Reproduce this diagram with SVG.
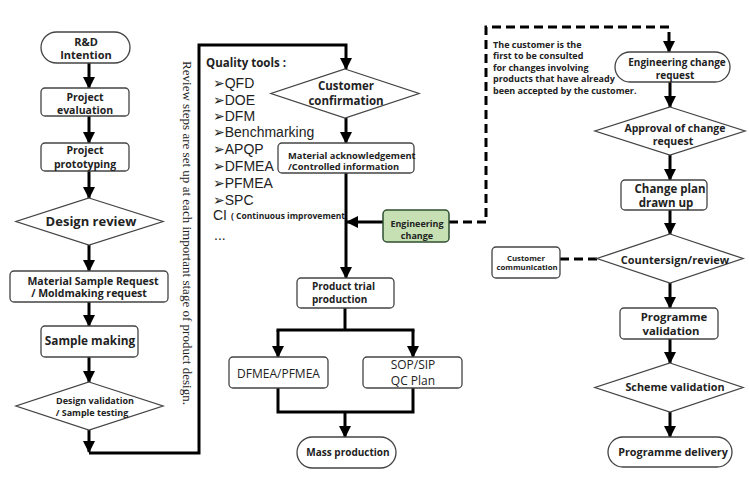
<svg xmlns="http://www.w3.org/2000/svg" width="749" height="480" viewBox="0 0 749 480">
<defs>
<marker id="ah" markerUnits="userSpaceOnUse" markerWidth="12" markerHeight="14" refX="11" refY="6" orient="auto">
<path d="M0,0 L12,6 L0,12 Z" fill="#000"/>
</marker>
<style>
.sh{fill:#fff;stroke:#444;stroke-width:1.3}
.ln{fill:none;stroke:#000;stroke-width:3}
.dl{fill:none;stroke:#000;stroke-width:3;stroke-dasharray:9,5}
.t{font-family:"Open Sans","DejaVu Sans",sans-serif;font-weight:bold;fill:#222;text-anchor:middle}
.r{font-family:"Open Sans","DejaVu Sans",sans-serif;fill:#222;text-anchor:middle}
.q{font-family:"Liberation Sans","DejaVu Sans",sans-serif;font-size:14px;fill:#222}
</style>
</defs>
<rect width="749" height="480" fill="#fff"/>

<g id="connectors">
<line class="ln" x1="89" y1="63" x2="89" y2="88" marker-end="url(#ah)"/>
<line class="ln" x1="89" y1="116" x2="89" y2="143" marker-end="url(#ah)"/>
<line class="ln" x1="89" y1="171" x2="89" y2="198" marker-end="url(#ah)"/>
<line class="ln" x1="89" y1="245" x2="89" y2="271" marker-end="url(#ah)"/>
<line class="ln" x1="89" y1="302" x2="89" y2="326" marker-end="url(#ah)"/>
<line class="ln" x1="89" y1="357" x2="89" y2="382" marker-end="url(#ah)"/>
<line class="ln" x1="89" y1="430" x2="89" y2="452" marker-end="url(#ah)"/>
<polyline class="ln" points="89,453 199,453 199,45 346,45 346,69" marker-end="url(#ah)"/>
<line class="ln" x1="346" y1="118" x2="346" y2="143" marker-end="url(#ah)"/>
<line class="ln" x1="346" y1="173" x2="346" y2="278" marker-end="url(#ah)"/>
<line class="ln" x1="383" y1="222" x2="347" y2="222" marker-end="url(#ah)"/>
<line class="ln" x1="345" y1="308" x2="345" y2="330"/>
<line class="ln" x1="276.5" y1="330" x2="414.5" y2="330"/>
<line class="ln" x1="278" y1="330" x2="278" y2="357" marker-end="url(#ah)"/>
<line class="ln" x1="413" y1="330" x2="413" y2="357" marker-end="url(#ah)"/>
<polyline class="ln" points="278,388 278,412 413,412 413,388"/>
<line class="ln" x1="345" y1="412" x2="345" y2="437" marker-end="url(#ah)"/>
<polyline class="dl" points="449,222 486,222 486,27 669,27 669,52" marker-end="url(#ah)"/>
<line class="ln" x1="670" y1="82" x2="670" y2="107" marker-end="url(#ah)"/>
<line class="ln" x1="670" y1="155" x2="670" y2="180" marker-end="url(#ah)"/>
<line class="ln" x1="670" y1="210" x2="670" y2="234" marker-end="url(#ah)"/>
<line class="ln" x1="670" y1="283" x2="670" y2="308" marker-end="url(#ah)"/>
<line class="ln" x1="670" y1="339" x2="670" y2="363" marker-end="url(#ah)"/>
<line class="ln" x1="670" y1="412" x2="670" y2="437" marker-end="url(#ah)"/>
<line class="dl" x1="560" y1="259" x2="597" y2="259"/>
</g>

<g id="rd-intention">
<rect class="sh" x="41" y="32" width="89" height="31" rx="15.5"/>
<text class="t" font-size="11" x="86" y="45.5">R&amp;D</text>
<text class="t" font-size="11" x="86" y="59">Intention</text>
</g>
<g id="project-evaluation">
<rect class="sh" x="41" y="88" width="88" height="28" rx="4"/>
<text class="t" font-size="10.5" x="85" y="101">Project</text>
<text class="t" font-size="10.5" x="85" y="114">evaluation</text>
</g>
<g id="project-prototyping">
<rect class="sh" x="41" y="143" width="88" height="28" rx="4"/>
<text class="t" font-size="10.5" x="85" y="154">Project</text>
<text class="t" font-size="10.5" x="85" y="168">prototyping</text>
</g>
<g id="design-review">
<polygon class="sh" points="89,198 163,221.5 89,245 16,221.5"/>
<text class="t" font-size="13" x="91" y="226">Design review</text>
</g>
<g id="material-sample">
<rect class="sh" x="10" y="271" width="158" height="31" rx="4"/>
<text class="t" font-size="10.5" x="93" y="284.5">Material Sample Request</text>
<text class="t" font-size="10.5" x="89" y="297">/ Moldmaking request</text>
</g>
<g id="sample-making">
<rect class="sh" x="41" y="326" width="97" height="31" rx="4"/>
<text class="t" font-size="11.8" x="90" y="345">Sample making</text>
</g>
<g id="design-validation">
<polygon class="sh" points="89,382 163,406 89,430 16,406"/>
<text class="t" font-size="9" x="95" y="403.5">Design validation</text>
<text class="t" font-size="9" x="92" y="416">/ Sample testing</text>
</g>

<g id="review-note">
<text transform="translate(183,61) rotate(90)" font-family="'Liberation Serif','DejaVu Serif',serif" font-size="12" fill="#222" textLength="344" lengthAdjust="spacingAndGlyphs">Review steps are set up at each important stage of product design.</text>
</g>

<g id="quality-tools">
<text class="t" font-size="11.5" x="206" y="67" style="text-anchor:start">Quality tools :</text>
<text class="q" x="213" y="88">➢QFD</text>
<text class="q" x="213" y="105">➢DOE</text>
<text class="q" x="213" y="121">➢DFM</text>
<text class="q" x="213" y="137">➢Benchmarking</text>
<text class="q" x="213" y="154">➢APQP</text>
<text class="q" x="213" y="171">➢DFMEA</text>
<text class="q" x="213" y="188">➢PFMEA</text>
<text class="q" x="213" y="205">➢SPC</text>
<text class="q" x="213" y="220">CI</text>
<text class="t" font-size="8.5" x="231" y="219" style="text-anchor:start">( Continuous improvement</text>
<text class="q" x="214" y="240" font-size="10" fill="#666">...</text>
</g>

<g id="customer-confirmation">
<polygon class="sh" points="345,69 419,93.5 345,118 271,93.5"/>
<text class="t" font-size="11.5" x="346" y="90">Customer</text>
<text class="t" font-size="11.5" x="346" y="104.5">confirmation</text>
</g>
<g id="material-ack">
<rect class="sh" x="278" y="143" width="136" height="30" rx="4"/>
<text class="t" font-size="9.3" x="288" y="158.5" style="text-anchor:start">Material acknowledgement</text>
<text class="t" font-size="9.3" x="288" y="170" style="text-anchor:start">/Controlled information</text>
</g>
<g id="engineering-change">
<rect x="383" y="210" width="66" height="32" rx="4" fill="#c6e0b4" stroke="#2f4f2f" stroke-width="1.5"/>
<text class="t" font-size="9" x="417" y="226.5">Engineering</text>
<text class="t" font-size="9" x="417" y="239">change</text>
</g>
<g id="product-trial">
<rect class="sh" x="297" y="278" width="97" height="30" rx="4"/>
<text class="t" font-size="10" x="312" y="289.5" style="text-anchor:start">Product trial</text>
<text class="t" font-size="10" x="312" y="302.5" style="text-anchor:start">production</text>
</g>
<g id="dfmea-pfmea">
<rect class="sh" x="229" y="357" width="99" height="31" rx="4"/>
<text class="r" font-size="12" x="278.5" y="378">DFMEA/PFMEA</text>
</g>
<g id="sop-sip">
<rect class="sh" x="363" y="357" width="99" height="31" rx="4"/>
<text class="r" font-size="12" x="413" y="368.5">SOP/SIP</text>
<text class="r" font-size="12" x="413" y="384.5">QC Plan</text>
</g>
<g id="mass-production">
<rect class="sh" x="297" y="437" width="99" height="31" rx="15.5"/>
<text class="t" font-size="10" x="348" y="455.5">Mass production</text>
</g>

<g id="customer-note">
<text class="t" font-size="9" fill="#333" x="493" y="47.5" style="text-anchor:start">The customer is the</text>
<text class="t" font-size="9" fill="#333" x="493" y="59" style="text-anchor:start">first to be consulted</text>
<text class="t" font-size="9" fill="#333" x="493" y="70.5" style="text-anchor:start">for changes involving</text>
<text class="t" font-size="9" fill="#333" x="493" y="82" style="text-anchor:start">products that have already</text>
<text class="t" font-size="9" fill="#333" x="493" y="93.5" style="text-anchor:start">been accepted by the customer.</text>
</g>

<g id="engineering-change-request">
<rect class="sh" x="615" y="52" width="115" height="30" rx="15"/>
<text class="t" font-size="10" x="677" y="66">Engineering change</text>
<text class="t" font-size="10" x="675" y="79">request</text>
</g>
<g id="approval">
<polygon class="sh" points="670,107 745,131 670,155 595,131"/>
<text class="t" font-size="10.5" x="675" y="132">Approval of change</text>
<text class="t" font-size="10.5" x="673" y="144.5">request</text>
</g>
<g id="change-plan">
<rect class="sh" x="621" y="180" width="86" height="30" rx="4"/>
<text class="t" font-size="11.5" x="670" y="192.5">Change plan</text>
<text class="t" font-size="11.5" x="666" y="207">drawn up</text>
</g>
<g id="countersign">
<polygon class="sh" points="670,234 743,258.5 670,283 597,258.5"/>
<text class="t" font-size="11" x="675" y="263.5">Countersign/review</text>
</g>
<g id="customer-communication">
<rect class="sh" x="492" y="247" width="68" height="31" rx="4"/>
<text class="t" font-size="7.8" x="526" y="260.5">Customer</text>
<text class="t" font-size="7.8" x="527" y="269.5">communication</text>
</g>
<g id="programme-validation">
<rect class="sh" x="620" y="308" width="98" height="31" rx="4"/>
<text class="t" font-size="11.3" x="674" y="320.5">Programme</text>
<text class="t" font-size="11.3" x="671" y="335">validation</text>
</g>
<g id="scheme-validation">
<polygon class="sh" points="670,363 743,387.5 670,412 595,387.5"/>
<text class="t" font-size="10.8" x="675" y="391">Scheme validation</text>
</g>
<g id="programme-delivery">
<rect class="sh" x="608" y="437" width="124" height="30" rx="15"/>
<text class="t" font-size="10.8" x="673" y="455.5">Programme delivery</text>
</g>
</svg>
